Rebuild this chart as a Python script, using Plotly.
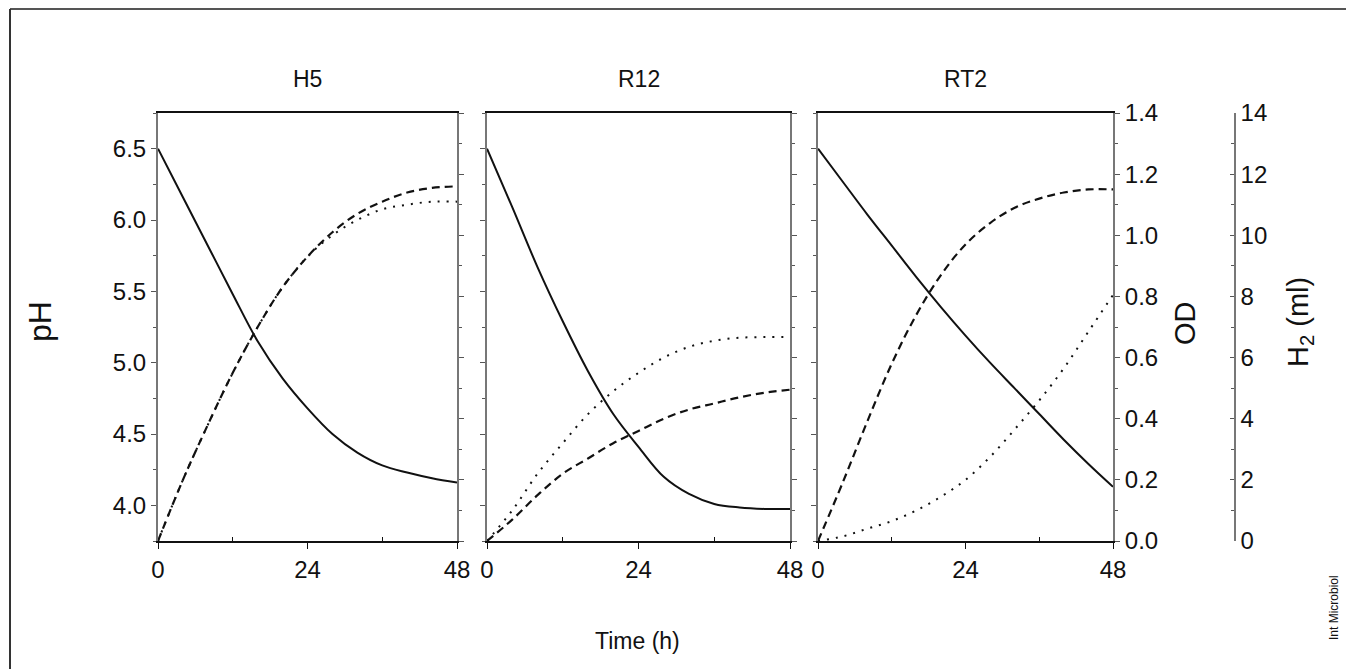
import plotly.graph_objects as go

W, H = 1346, 669

# ---------------- data ----------------
time_h = [0, 4, 8, 12, 16, 20, 24, 28, 32, 36, 40, 44, 48]

panels = ["H5", "R12", "RT2"]

ph_h5 = [6.50, 6.16, 5.82, 5.48, 5.15, 4.89, 4.68, 4.50, 4.37, 4.28, 4.23, 4.19, 4.16]
od_h5 = [0.00, 0.20, 0.38, 0.55, 0.70, 0.83, 0.93, 1.01, 1.07, 1.11, 1.14, 1.155, 1.16]
h2_h5 = [0.0, 2.0, 3.8, 5.5, 7.0, 8.3, 9.3, 10.0, 10.5, 10.85, 11.0, 11.1, 11.1]

ph_r12 = [6.50, 6.09, 5.67, 5.29, 4.94, 4.64, 4.41, 4.20, 4.08, 4.01, 3.985, 3.975, 3.975]
od_r12 = [0.00, 0.07, 0.15, 0.22, 0.27, 0.32, 0.36, 0.40, 0.43, 0.45, 0.47, 0.485, 0.495]
h2_r12 = [0.0, 1.0, 2.2, 3.2, 4.15, 4.9, 5.5, 6.0, 6.35, 6.55, 6.65, 6.67, 6.67]

ph_rt2 = [6.50, 6.27, 6.04, 5.82, 5.60, 5.39, 5.19, 5.00, 4.82, 4.64, 4.46, 4.29, 4.13]
od_rt2 = [0.00, 0.19, 0.39, 0.58, 0.74, 0.87, 0.97, 1.04, 1.09, 1.12, 1.14, 1.15, 1.15]
h2_rt2 = [0.0, 0.15, 0.4, 0.65, 1.0, 1.45, 2.0, 2.75, 3.65, 4.6, 5.65, 6.85, 8.05]

ph_ticks = [4.0, 4.5, 5.0, 5.5, 6.0, 6.5]
od_ticks = [0.0, 0.2, 0.4, 0.6, 0.8, 1.0, 1.2, 1.4]
h2_ticks = [0, 2, 4, 6, 8, 10, 12, 14]
x_ticks = [0, 24, 48]

series = [(ph_h5, od_h5, h2_h5), (ph_r12, od_r12, h2_r12), (ph_rt2, od_rt2, h2_rt2)]

# ---------------- layout helpers ----------------
def px_x(p):
    return p / W

def px_y(p):
    return 1 - p / H

FONT = "Liberation Sans, Arial, sans-serif"
TICK = 24
x_domains = [(158, 457), (487, 790), (818, 1113)]
y_dom = [px_y(541), px_y(113)]

fig = go.Figure()
layout = dict(
    template="none",
    width=W, height=H, autosize=False,
    margin=dict(l=0, r=0, t=0, b=0, pad=0),
    paper_bgcolor="white", plot_bgcolor="white",
    showlegend=False,
    font=dict(family=FONT, color="#111", size=TICK),
)

for i, (ph, od, h2) in enumerate(series):
    xn = "x" if i == 0 else f"x{i+1}"
    xk = "xaxis" if i == 0 else f"xaxis{i+1}"
    yph = 3 * i + 1
    yod = 3 * i + 2
    yh2 = 3 * i + 3
    yph_n = "y" if yph == 1 else f"y{yph}"
    fig.add_trace(go.Scatter(x=time_h, y=ph, xaxis=xn, yaxis=yph_n, mode="lines",
                             line=dict(color="#111", width=2, shape="spline")))
    fig.add_trace(go.Scatter(x=time_h, y=od, xaxis=xn, yaxis=f"y{yod}", mode="lines",
                             line=dict(color="#111", width=2.2, dash="8px,5px", shape="spline")))
    fig.add_trace(go.Scatter(x=time_h, y=h2, xaxis=xn, yaxis=f"y{yh2}", mode="lines",
                             line=dict(color="#111", width=2, dash="2px,7px", shape="spline")))

    d0, d1 = x_domains[i]
    layout[xk] = dict(
        domain=[px_x(d0), px_x(d1)], anchor=yph_n, range=[0, 48], automargin=False,
        showline=True, linecolor="#111", linewidth=2, mirror=True,
        tickvals=x_ticks, ticks="outside", ticklen=6, tickcolor="#111",
        minor=dict(tickvals=[12, 36], ticks="inside", ticklen=4, tickcolor="#111"),
        showgrid=False, zeroline=False,
        tickfont=dict(size=TICK, family=FONT, color="#111"),
    )
    ph_key = "yaxis" if yph == 1 else f"yaxis{yph}"
    layout[ph_key] = dict(
        domain=y_dom, anchor=xn, range=[3.75, 6.75], automargin=False,
        showline=True, linecolor="#777", linewidth=2,
        tickvals=ph_ticks, tickformat=".1f", ticks="outside", ticklen=5, tickcolor="#555",
        minor=dict(dtick=0.25, tick0=3.75, ticks="outside", ticklen=3, tickcolor="#555"),
        showticklabels=(i == 0), showgrid=False, zeroline=False,
        tickfont=dict(size=TICK, family=FONT, color="#111"),
    )
    layout[f"yaxis{yod}"] = dict(
        domain=y_dom, anchor=xn, overlaying=yph_n, side="right", range=[0, 1.4], automargin=False,
        showline=True, linecolor="#777", linewidth=2,
        tickvals=od_ticks, tickformat=".1f", ticks="outside", ticklen=5, tickcolor="#555",
        minor=dict(dtick=0.1, ticks="outside", ticklen=3, tickcolor="#555"),
        showticklabels=(i == 2), showgrid=False, zeroline=False,
        tickfont=dict(size=TICK, family=FONT, color="#111"),
    )
    if i < 2:
        layout[f"yaxis{yh2}"] = dict(domain=y_dom, anchor=xn, overlaying=yph_n,
                                     range=[0, 14], visible=False, automargin=False)
    else:
        layout[f"yaxis{yh2}"] = dict(
            domain=y_dom, anchor="free", overlaying=yph_n, side="right", automargin=False,
            position=px_x(1235), range=[0, 14],
            showline=True, linecolor="#777", linewidth=1.5,
            tickvals=h2_ticks, ticks="inside", ticklen=4, tickcolor="#555",
            minor=dict(dtick=1, ticks="inside", ticklen=3, tickcolor="#555"),
            showgrid=False, zeroline=False,
            tickfont=dict(size=TICK, family=FONT, color="#111"),
        )

fig.update_layout(**layout)


def label(text, x, y, size, angle=0):
    return dict(text=text, x=px_x(x), y=px_y(y), xref="paper", yref="paper",
                xanchor="center", yanchor="middle", showarrow=False, textangle=angle,
                font=dict(size=size, family=FONT, color="#111"))


annotations = []
for i, name in enumerate(panels):
    d0, d1 = x_domains[i]
    annotations.append(label(name, (d0 + d1) / 2, 79, 23))
annotations += [
    label("pH", 40, 322, 32, -90),
    label("OD", 1185, 323, 29, -90),
    label("H<sub>2</sub> (ml)", 1300, 322, 29, -90),
    label("Time (h)", 637, 641, 23),
    label("Int Microbiol", 1334, 608, 12, -90),
]

shapes = [
    dict(type="line", xref="paper", yref="paper", x0=px_x(10), y0=px_y(9), x1=1, y1=px_y(9),
         line=dict(color="#555", width=2)),
    dict(type="line", xref="paper", yref="paper", x0=px_x(10), y0=px_y(9), x1=px_x(10), y1=0,
         line=dict(color="#333", width=2)),
]
fig.update_layout(annotations=annotations, shapes=shapes)

fig.write_html("out.html")
